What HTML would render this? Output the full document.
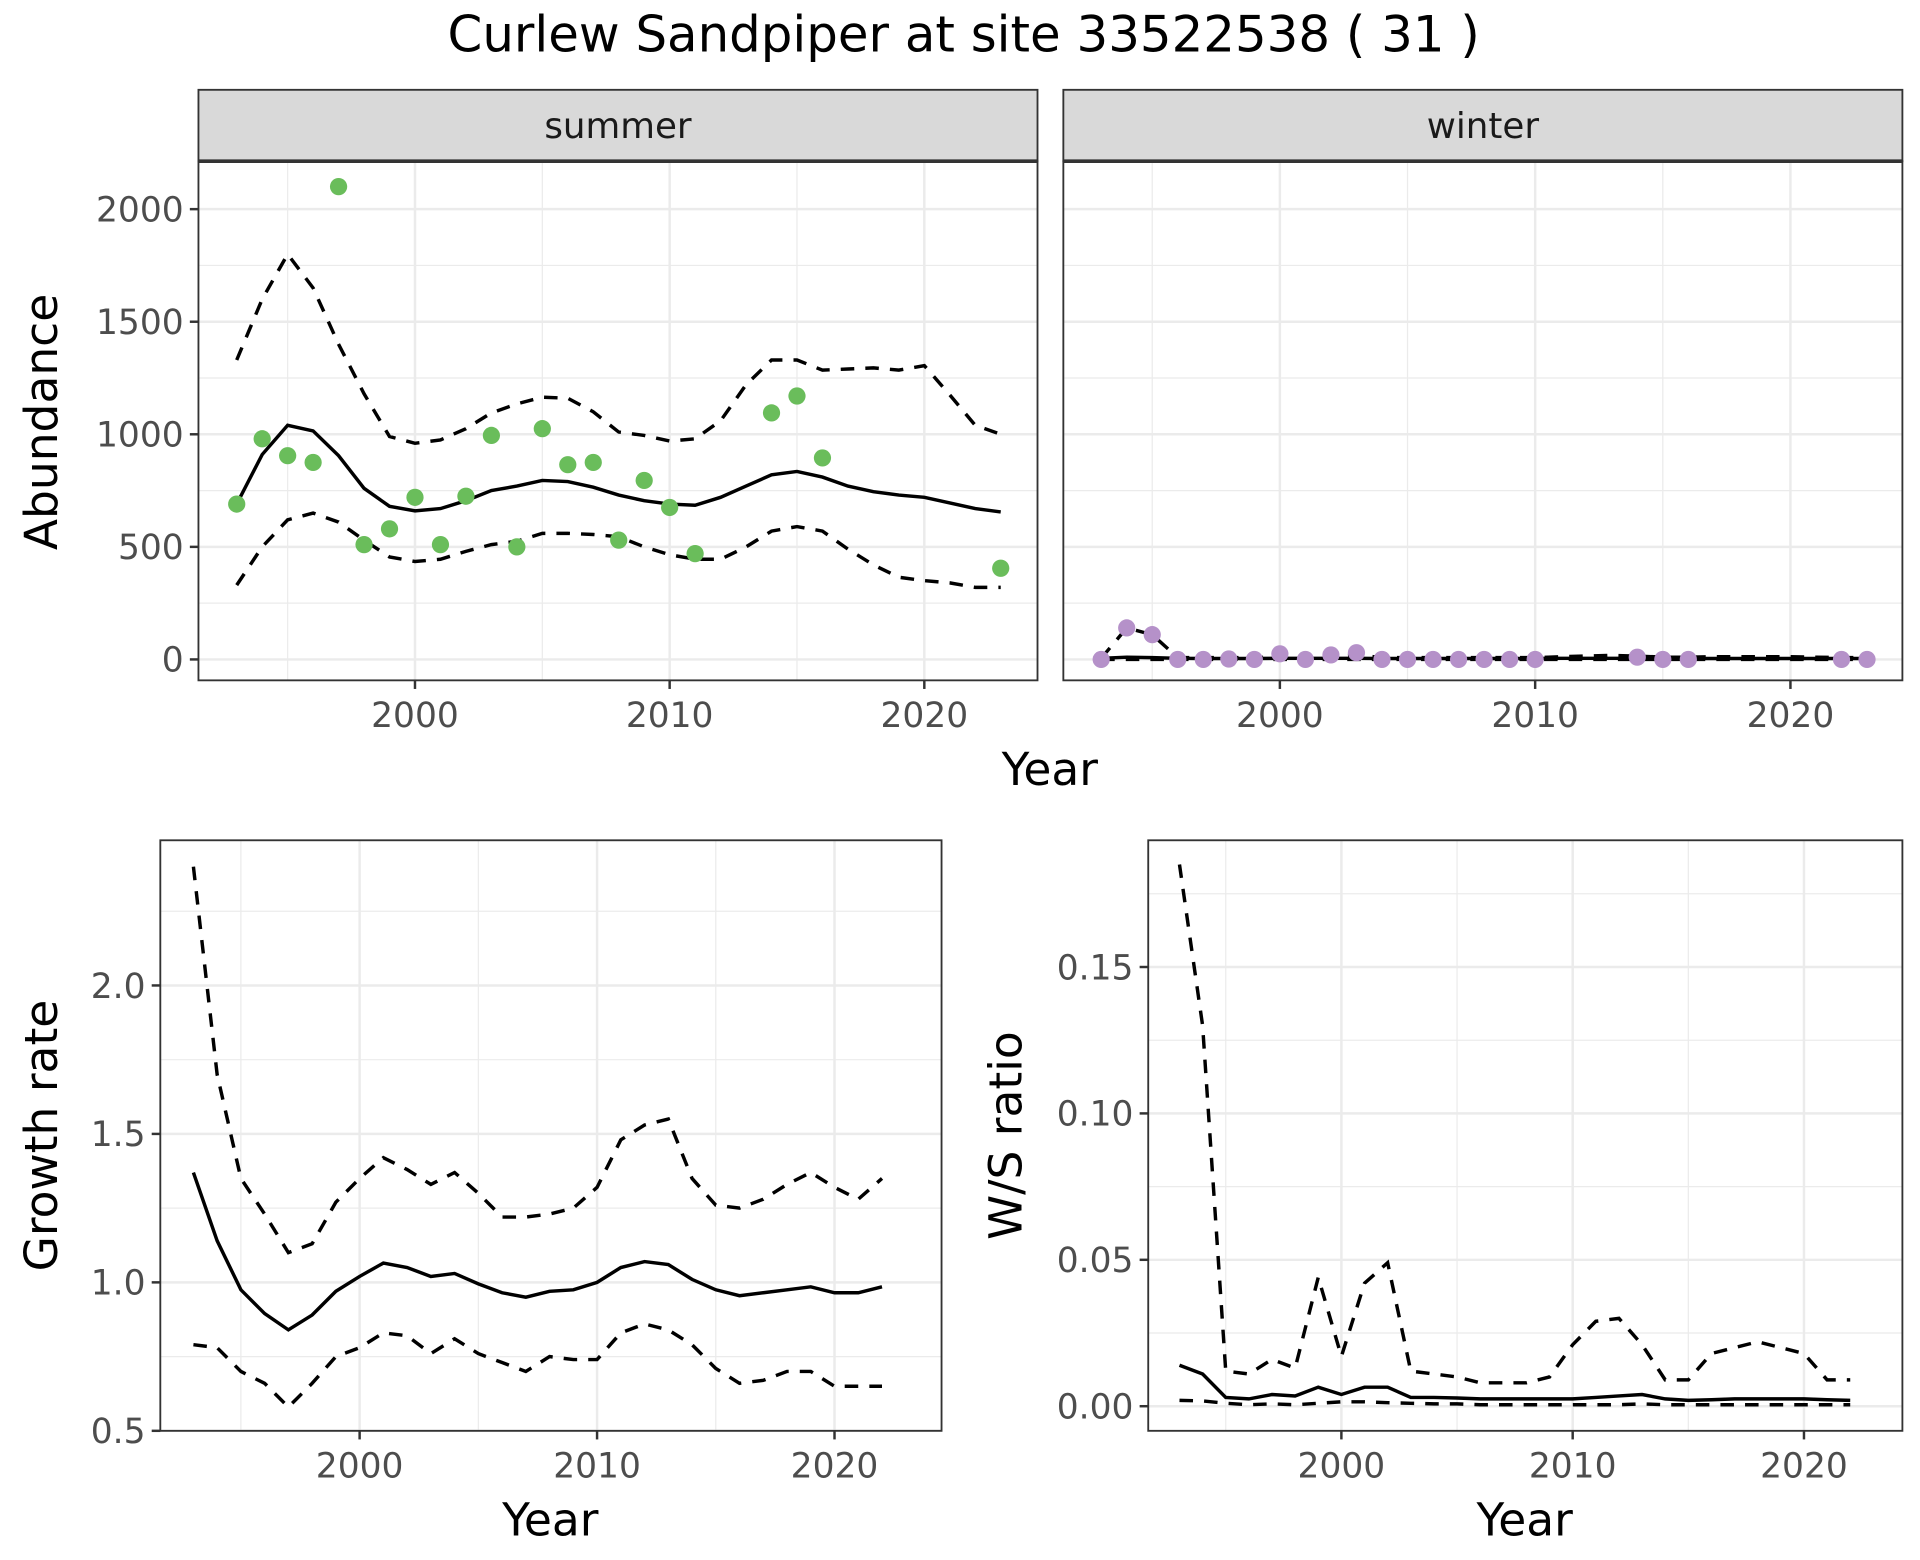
<!DOCTYPE html>
<html><head><meta charset="utf-8"><style>
html,body{margin:0;padding:0;background:#fff}
svg{display:block}
text{font-family:"DejaVu Sans","Liberation Sans",sans-serif}
</style></head><body>
<svg id="c" width="1920" height="1560" viewBox="0 0 1560 1268" xmlns="http://www.w3.org/2000/svg">
<rect width="1560" height="1268" fill="#fff"/>
<text x="783" y="42" text-anchor="middle" font-size="40.5" fill="#000">Curlew Sandpiper at site 33522538 ( 31 )</text>
</svg>
<script>
const years = Array.from({length:31},(_,i)=>1993+i);
const summerPtYears = [1993,1994,1995,1996,1997,1998,1999,2000,2001,2002,2003,2004,2005,2006,2007,2008,2009,2010,2011,2014,2015,2016,2023];
const summerPts = [690,980,905,875,2100,510,580,720,510,725,995,500,1025,865,875,530,795,675,470,1095,1170,895,405];
const summerMean = [690,910,1040,1015,905,760,680,660,670,705,750,770,795,790,765,730,705,690,685,720,770,820,835,810,770,745,730,720,695,670,655];
const summerUpper = [1330,1600,1800,1650,1400,1180,990,960,975,1025,1095,1135,1165,1160,1100,1010,995,970,980,1060,1220,1330,1330,1285,1290,1295,1285,1305,1175,1040,1000];
const summerLower = [330,500,620,650,610,530,455,435,445,480,510,525,560,560,555,545,500,465,445,445,500,570,590,570,490,420,365,350,340,320,320];
const winterPtYears = [1993,1994,1995,1996,1997,1998,1999,2000,2001,2002,2003,2004,2005,2006,2007,2008,2009,2010,2014,2015,2016,2022,2023];
const winterPts = [0,140,110,0,0,2,0,25,0,20,30,0,0,0,0,0,0,0,10,0,0,0,0];
const winterMean = [5,10,8,5,4,4,4,5,5,5,5,4,4,4,4,4,4,4,5,5,5,5,5,4,4,4,4,4,4,4,4];
const winterUpper = [5,140,110,8,8,8,8,12,12,14,20,8,8,8,8,8,8,8,12,15,18,15,10,10,12,12,12,12,10,8,8];
const winterLower = [0,0,0,0,0,0,0,0,0,0,0,0,0,0,0,0,0,0,0,0,0,0,0,0,0,0,0,0,0,0,0];
const grYears = Array.from({length:30},(_,i)=>1993+i);
const grMean = [1.37,1.14,0.975,0.895,0.84,0.89,0.97,1.02,1.065,1.05,1.02,1.03,0.995,0.965,0.95,0.97,0.975,1.0,1.05,1.07,1.06,1.01,0.975,0.955,0.965,0.975,0.985,0.965,0.965,0.985];
const grUpper = [2.4,1.7,1.35,1.23,1.1,1.13,1.27,1.35,1.42,1.38,1.33,1.37,1.3,1.22,1.22,1.23,1.25,1.32,1.48,1.53,1.55,1.35,1.26,1.25,1.28,1.33,1.37,1.32,1.28,1.35];
const grLower = [0.79,0.78,0.7,0.66,0.58,0.66,0.75,0.78,0.83,0.82,0.76,0.81,0.76,0.73,0.7,0.75,0.74,0.74,0.83,0.86,0.84,0.79,0.71,0.66,0.67,0.7,0.7,0.65,0.65,0.65];
const wsMean = [0.014,0.011,0.003,0.0025,0.004,0.0035,0.0065,0.004,0.0065,0.0065,0.003,0.003,0.0028,0.0025,0.0025,0.0025,0.0025,0.0025,0.003,0.0035,0.004,0.0025,0.002,0.0022,0.0025,0.0025,0.0025,0.0025,0.0022,0.002];
const wsUpper = [0.185,0.13,0.012,0.011,0.016,0.013,0.044,0.017,0.042,0.049,0.012,0.011,0.01,0.008,0.008,0.008,0.01,0.021,0.029,0.03,0.021,0.009,0.009,0.018,0.02,0.022,0.02,0.018,0.009,0.009];
const wsLower = [0.002,0.0018,0.001,0.0005,0.0008,0.0005,0.001,0.0015,0.0015,0.0012,0.001,0.0008,0.0008,0.0005,0.0005,0.0005,0.0005,0.0005,0.0005,0.0005,0.0008,0.0005,0.0005,0.0005,0.0005,0.0005,0.0005,0.0005,0.0005,0.0005];
const xTicks = [2000,2010,2020];
const xMinor = [1995,2005,2015];
const abTicks = [0,500,1000,1500,2000];
const abMinor = [250,750,1250,1750];
const grTicks = [0.5,1.0,1.5,2.0];
const grMinor = [0.75,1.25,1.75,2.25];
const wsTicks = [0,0.05,0.10,0.15];
const wsMinor = [0.025,0.075,0.125,0.175];

const NS="http://www.w3.org/2000/svg", svg=document.getElementById('c');
function el(t,a,p){const e=document.createElementNS(NS,t);for(const k in a)e.setAttribute(k,a[k]);(p||svg).appendChild(e);return e;}
function lin(d0,d1,r0,r1){return v=>r0+(v-d0)*(r1-r0)/(d1-d0);}

function panel(o){
  const g=el('g',{});
  
  
  const {x0,x1,y0,y1}=o;
  const grid=el('g',{},g);
  
  
  o.xMinor.forEach(v=>el('line',{x1:o.sx(v),x2:o.sx(v),y1:y0,y2:y1,stroke:'#ebebeb','stroke-width':1},grid));
  o.yMinor.forEach(v=>{const y=o.sy(v);if(y>y0&&y<y1)el('line',{x1:x0,x2:x1,y1:y,y2:y,stroke:'#ebebeb','stroke-width':1},grid);});
  o.xTicks.forEach(v=>el('line',{x1:o.sx(v),x2:o.sx(v),y1:y0,y2:y1,stroke:'#ebebeb','stroke-width':2},grid));
  o.yTicks.forEach(v=>el('line',{x1:x0,x2:x1,y1:o.sy(v),y2:o.sy(v),stroke:'#ebebeb','stroke-width':2},grid));
  o.lines.forEach(L=>{
    const p=el('polyline',{points:L.xs.map((x,i)=>o.sx(x)+','+o.sy(L.ys[i])).join(' '),fill:'none',stroke:'#000','stroke-width':2.8,'stroke-dasharray':L.dash?'11,9':'none'},g);
    
    
  });
  if(o.pts){o.pts.ys.forEach((v,i)=>{
    const c=el('circle',{cx:o.sx(o.pts.xs[i]),cy:o.sy(v),r:7,fill:o.pts.color},g);
    
    
  });}
  el('rect',{x:x0,y:y0,width:x1-x0,height:y1-y0,fill:'none',stroke:'#333','stroke-width':1.5},g);
  o.xTicks.forEach(v=>{
    el('line',{x1:o.sx(v),x2:o.sx(v),y1:y1,y2:y1+7,stroke:'#333','stroke-width':2},g);
    const t=el('text',{x:o.sx(v),y:y1+38,'text-anchor':'middle','font-size':28,fill:'#4d4d4d'},g);t.textContent=v;
    
    
  });
  if(o.yLabels){o.yTicks.forEach(v=>{
    el('line',{x1:x0-7,x2:x0,y1:o.sy(v),y2:o.sy(v),stroke:'#333','stroke-width':2},g);
    const t=el('text',{x:x0-12,y:o.sy(v)+10,'text-anchor':'end','font-size':28,fill:'#4d4d4d'},g);t.textContent=o.fmt(v);
    
    
  });}
  if(o.strip){
    const r=el('rect',{x:x0,y:73,width:x1-x0,height:58,fill:'#d9d9d9',stroke:'#333','stroke-width':1.5},g);
    
    
    el('line',{x1:x0,x2:x1,y1:131,y2:131,stroke:'#333','stroke-width':3},g);
    const t=el('text',{x:(x0+x1)/2,y:112,'text-anchor':'middle','font-size':29,fill:'#1a1a1a'},g);t.textContent=o.strip;
  }
  return g;
}
const abY=lin(0,2000,536,170);
panel({name:'summer-panel',x0:161,x1:843,y0:131,y1:553,sx:lin(2000,2020,337,751),sy:abY,xTicks,xMinor,yTicks:abTicks,yMinor:abMinor,yLabels:true,fmt:v=>v,strip:'summer',
 lines:[{xs:years,ys:summerUpper,dash:1,name:'summer-upper'},{xs:years,ys:summerLower,dash:1,name:'summer-lower'},{xs:years,ys:summerMean,name:'summer-mean'}],
 pts:{xs:summerPtYears,ys:summerPts,color:'#6abd5b'}});
panel({name:'winter-panel',x0:864,x1:1546,y0:131,y1:553,sx:lin(2000,2020,1040,1455),sy:abY,xTicks,xMinor,yTicks:abTicks,yMinor:abMinor,yLabels:false,strip:'winter',
 lines:[{xs:years,ys:winterUpper,dash:1,name:'winter-upper'},{xs:years,ys:winterLower,dash:1,name:'winter-lower'},{xs:years,ys:winterMean,name:'winter-mean'}],
 pts:{xs:winterPtYears,ys:winterPts,color:'#b591c9'}});
panel({name:'growth-panel',x0:130,x1:765,y0:683,y1:1163,sx:lin(2000,2020,292,678),sy:lin(0.5,2.0,1163,801),xTicks,xMinor,yTicks:grTicks,yMinor:grMinor,yLabels:true,fmt:v=>v.toFixed(1),
 lines:[{xs:grYears,ys:grUpper,dash:1,name:'growth-upper'},{xs:grYears,ys:grLower,dash:1,name:'growth-lower'},{xs:grYears,ys:grMean,name:'growth-mean'}]});
panel({name:'ws-panel',x0:933,x1:1546,y0:683,y1:1163,sx:lin(2000,2020,1090,1466),sy:lin(0,0.15,1143,786),xTicks,xMinor,yTicks:wsTicks,yMinor:wsMinor,yLabels:true,fmt:v=>v.toFixed(2),
 lines:[{xs:grYears,ys:wsUpper,dash:1,name:'ws-upper'},{xs:grYears,ys:wsLower,dash:1,name:'ws-lower'},{xs:grYears,ys:wsMean,name:'ws-mean'}]});
function title(txt,x,y,rot,name){const t=el('text',{x,y,'text-anchor':'middle','font-size':37,fill:'#000',transform:rot?`rotate(-90 ${x} ${y})`:''});t.textContent=txt;
 
 }
title('Year',853,638,0,'top-x-axis-title');
title('Abundance',46,343,1,'abundance-y-axis-title');
title('Year',447,1248,0,'growth-x-axis-title');
title('Growth rate',46,923,1,'growth-y-axis-title');
title('Year',1239,1248,0,'ws-x-axis-title');
title('W/S ratio',830,923,1,'ws-y-axis-title');
</script>
</body></html>
